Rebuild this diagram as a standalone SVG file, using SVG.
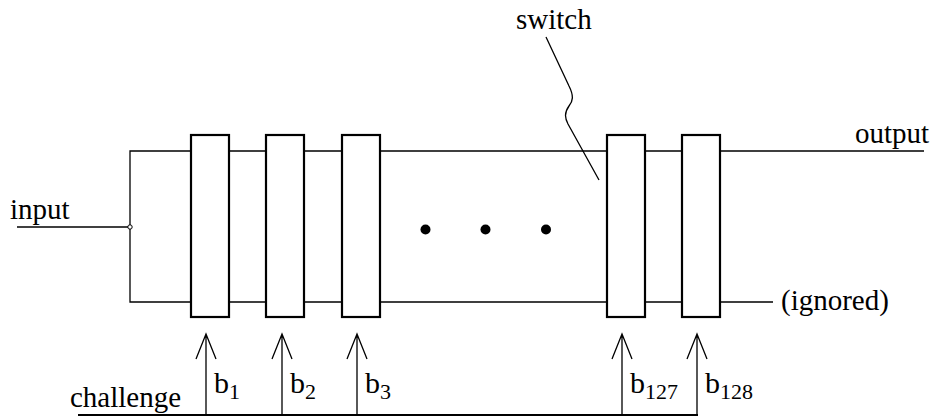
<svg xmlns="http://www.w3.org/2000/svg" width="935" height="417" viewBox="0 0 935 417">
<style>
text{font-family:'Liberation Serif','Times New Roman',Times,'DejaVu Serif',serif;fill:#000}
.t{font-size:29px}
.b{font-size:30px}
.s{font-size:22px}
.w{fill:none;stroke:#000;stroke-width:1.3}
.box{fill:#fff;stroke:#000;stroke-width:2.2}
.ar{fill:none;stroke:#000;stroke-width:1.3}
</style>
<rect width="935" height="417" fill="#fff"/>
<g id="connectors">
<path class="w" d="M924,151 H130 V302 H773"/>
<path class="w" d="M17,227 H128"/>
<circle cx="130" cy="227" r="2.2" fill="#fff" stroke="#000" stroke-width="1"/>
<path class="w" d="M546,37 L569,86 C574,96 573,101 569,106 C564,113 565,118 568,124 L599,180"/>
<line x1="78" y1="415" x2="698" y2="415" stroke="#000" stroke-width="2.2"/>
<path class="ar" d="M206,415 V334 M196,359 L206,334 L216,359"/>
<path class="ar" d="M282,415 V334 M272,359 L282,334 L292,359"/>
<path class="ar" d="M357,415 V334 M347,359 L357,334 L367,359"/>
<path class="ar" d="M622,415 V334 M612,359 L622,334 L632,359"/>
<path class="ar" d="M697,415 V334 M687,359 L697,334 L707,359"/>
</g>
<g id="switch1"><rect class="box" x="191" y="135" width="38" height="182"/></g>
<g id="switch2"><rect class="box" x="266" y="135" width="38" height="182"/></g>
<g id="switch3"><rect class="box" x="342" y="135" width="38" height="182"/></g>
<g id="switch127"><rect class="box" x="607" y="135" width="38" height="182"/></g>
<g id="switch128"><rect class="box" x="682" y="135" width="38" height="182"/></g>
<g id="dots">
<circle cx="425.5" cy="229.5" r="5"/>
<circle cx="485.5" cy="229.5" r="5"/>
<circle cx="546" cy="229.5" r="5"/>
</g>
<g id="labels">
<text class="t" x="10" y="219" font-family="Liberation Serif">input</text>
<text class="t" x="70" y="407">challenge</text>
<text class="t" x="516" y="29">switch</text>
<text class="t" x="855" y="143">output</text>
<text class="t" x="781" y="310">(ignored)</text>
<text class="b" x="214" y="393">b<tspan class="s" dy="6">1</tspan></text>
<text class="b" x="290" y="393">b<tspan class="s" dy="6">2</tspan></text>
<text class="b" x="365" y="393">b<tspan class="s" dy="6">3</tspan></text>
<text class="b" x="630" y="393">b<tspan class="s" dy="6">127</tspan></text>
<text class="b" x="705" y="393">b<tspan class="s" dy="6">128</tspan></text>
</g>
</svg>
